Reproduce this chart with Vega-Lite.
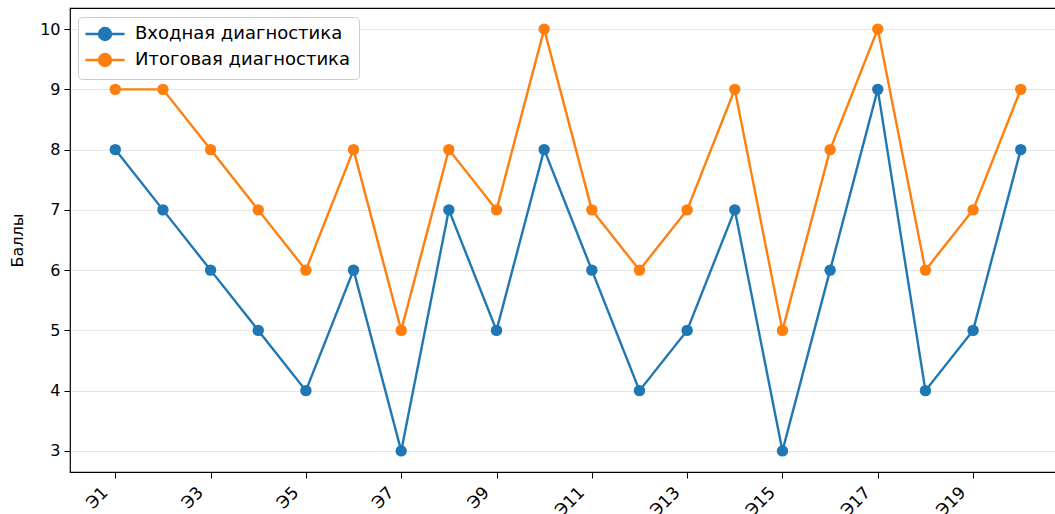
{
  "$schema": "https://vega.github.io/schema/vega-lite/v6.json",
  "width": 996,
  "height": 464,
  "autosize": {"type": "none"},
  "padding": {"left": 70, "top": 8, "right": 0, "bottom": 42},
  "background": "white",
  "config": {
    "font": "DejaVu Sans",
    "view": {"stroke": "black", "strokeWidth": 1.2}
  },
  "data": {
    "values": [
      {"i": 1, "series": "Входная диагностика", "score": 8},
      {"i": 2, "series": "Входная диагностика", "score": 7},
      {"i": 3, "series": "Входная диагностика", "score": 6},
      {"i": 4, "series": "Входная диагностика", "score": 5},
      {"i": 5, "series": "Входная диагностика", "score": 4},
      {"i": 6, "series": "Входная диагностика", "score": 6},
      {"i": 7, "series": "Входная диагностика", "score": 3},
      {"i": 8, "series": "Входная диагностика", "score": 7},
      {"i": 9, "series": "Входная диагностика", "score": 5},
      {"i": 10, "series": "Входная диагностика", "score": 8},
      {"i": 11, "series": "Входная диагностика", "score": 6},
      {"i": 12, "series": "Входная диагностика", "score": 4},
      {"i": 13, "series": "Входная диагностика", "score": 5},
      {"i": 14, "series": "Входная диагностика", "score": 7},
      {"i": 15, "series": "Входная диагностика", "score": 3},
      {"i": 16, "series": "Входная диагностика", "score": 6},
      {"i": 17, "series": "Входная диагностика", "score": 9},
      {"i": 18, "series": "Входная диагностика", "score": 4},
      {"i": 19, "series": "Входная диагностика", "score": 5},
      {"i": 20, "series": "Входная диагностика", "score": 8},
      {"i": 1, "series": "Итоговая диагностика", "score": 9},
      {"i": 2, "series": "Итоговая диагностика", "score": 9},
      {"i": 3, "series": "Итоговая диагностика", "score": 8},
      {"i": 4, "series": "Итоговая диагностика", "score": 7},
      {"i": 5, "series": "Итоговая диагностика", "score": 6},
      {"i": 6, "series": "Итоговая диагностика", "score": 8},
      {"i": 7, "series": "Итоговая диагностика", "score": 5},
      {"i": 8, "series": "Итоговая диагностика", "score": 8},
      {"i": 9, "series": "Итоговая диагностика", "score": 7},
      {"i": 10, "series": "Итоговая диагностика", "score": 10},
      {"i": 11, "series": "Итоговая диагностика", "score": 7},
      {"i": 12, "series": "Итоговая диагностика", "score": 6},
      {"i": 13, "series": "Итоговая диагностика", "score": 7},
      {"i": 14, "series": "Итоговая диагностика", "score": 9},
      {"i": 15, "series": "Итоговая диагностика", "score": 5},
      {"i": 16, "series": "Итоговая диагностика", "score": 8},
      {"i": 17, "series": "Итоговая диагностика", "score": 10},
      {"i": 18, "series": "Итоговая диагностика", "score": 6},
      {"i": 19, "series": "Итоговая диагностика", "score": 7},
      {"i": 20, "series": "Итоговая диагностика", "score": 9}
    ]
  },
  "encoding": {
    "x": {
      "field": "i",
      "type": "quantitative",
      "scale": {"domain": [0.05, 20.95], "nice": false, "zero": false},
      "axis": {
        "title": null,
        "values": [1, 3, 5, 7, 9, 11, 13, 15, 17, 19],
        "labelExpr": "'Э' + datum.value",
        "grid": false,
        "domain": false,
        "tickColor": "black",
        "tickSize": 6,
        "tickWidth": 1,
        "labelAngle": -45,
        "labelAlign": "right",
        "labelBaseline": "bottom",
        "labelFontSize": 17,
        "labelColor": "black",
        "labelPadding": 18,
        "labelOffset": -4,
        "labelOverlap": false,
        "labelBound": false
      }
    },
    "y": {
      "field": "score",
      "type": "quantitative",
      "scale": {"domain": [2.65, 10.35], "nice": false, "zero": false},
      "axis": {
        "title": "Баллы",
        "titleFontSize": 16,
        "titleFontWeight": "normal",
        "titleColor": "black",
        "titlePadding": 14,
        "values": [3, 4, 5, 6, 7, 8, 9, 10],
        "grid": true,
        "gridColor": "#e5e5e5",
        "gridWidth": 1,
        "domain": false,
        "tickColor": "black",
        "tickSize": 6,
        "labelFontSize": 16,
        "labelColor": "black",
        "labelPadding": 4
      }
    },
    "color": {
      "field": "series",
      "type": "nominal",
      "scale": {"domain": ["Входная диагностика", "Итоговая диагностика"], "range": ["#1f77b4", "#ff7f0e"]},
      "legend": {
        "title": null,
        "orient": "none",
        "legendX": 8,
        "legendY": 9,
        "padding": 8,
        "fillColor": "white",
        "strokeColor": "#cccccc",
        "cornerRadius": 4,
        "labelFontSize": 18,
        "labelColor": "black",
        "labelLimit": 400,
        "rowPadding": 4,
        "symbolType": "M-2.79,0H-0.86A0.86,0.86 0 1,1 0.86,0H2.79M0.86,0A0.86,0.86 0 1,1 -0.86,0",
        "symbolSize": 196,
        "symbolStrokeWidth": 2.4,
        "symbolOffset": 10,
        "labelOffset": 21,
        "symbolOpacity": 1,
        "encode": {
          "symbols": {"update": {"fill": {"scale": "color", "field": "value"}, "stroke": {"scale": "color", "field": "value"}}}
        }
      }
    }
  },
  "layer": [
    {"mark": {"type": "line", "strokeWidth": 2.4}},
    {"mark": {"type": "circle", "size": 130, "opacity": 1}}
  ]
}
